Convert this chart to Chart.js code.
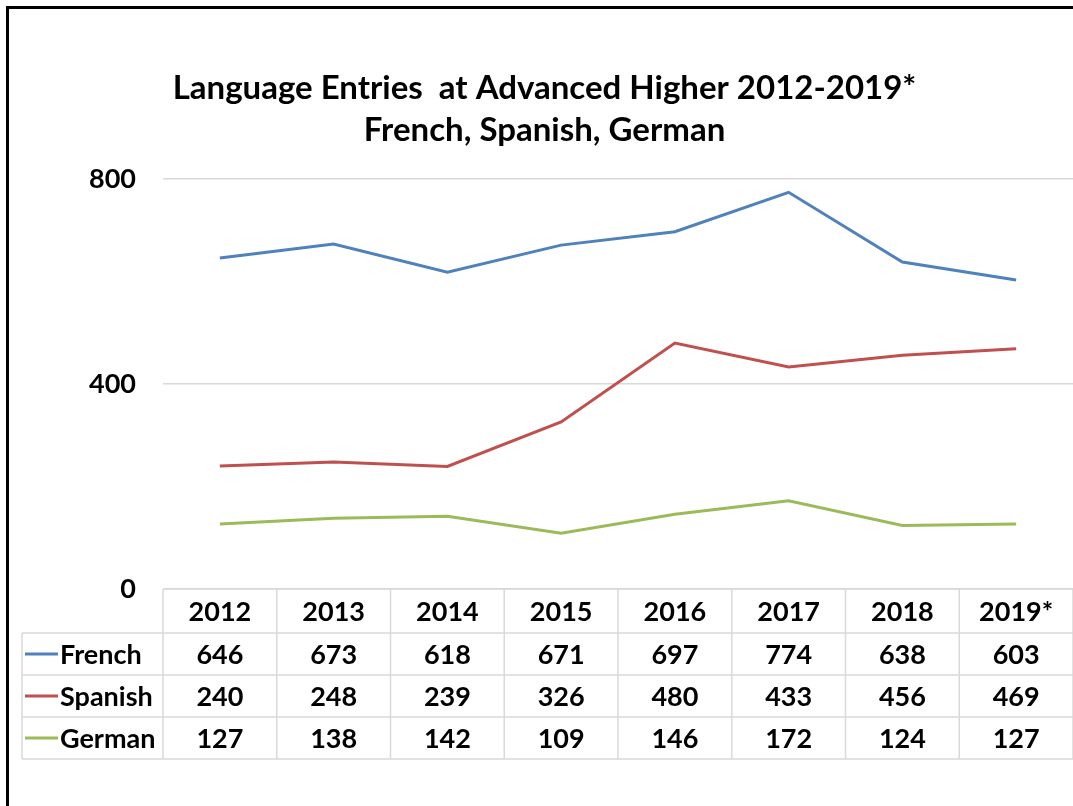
<!DOCTYPE html>
<html>
<head>
<meta charset="utf-8">
<script src="https://cdn.jsdelivr.net/npm/chart.js@4"></script>
<style>
  html, body { margin: 0; padding: 0; background: #fff; }
  #wrap { position: relative; width: 1073px; height: 806px; overflow: hidden; }
  #frame { position: absolute; left: 6px; top: 6px; width: 1100px; height: 900px;
           border-left: 3px solid #000; border-top: 3px solid #000; pointer-events: none; }
  canvas { display: block; }
</style>
</head>
<body>
<div id="wrap">
  <canvas id="chart" width="1073" height="806"></canvas>
  <div id="frame"></div>
</div>
<script>
const years = ["2012", "2013", "2014", "2015", "2016", "2017", "2018", "2019*"];
const french = [646, 673, 618, 671, 697, 774, 638, 603];
const spanish = [240, 248, 239, 326, 480, 433, 456, 469];
const german = [127, 138, 142, 109, 146, 172, 124, 127];
const yTicks = [0, 400, 800];

const FONT = "Lato, 'Open Sans', sans-serif";
const GRID = "#d9d9d9";

// data table under the plot, drawn from the same arrays and the x scale
const dataTable = {
  id: "dataTable",
  afterDraw(chart) {
    const ctx = chart.ctx;
    const x = chart.scales.x;
    const top = chart.chartArea.bottom;
    const colW = x.width / years.length;
    const headH = 44, rowH = 42, legendLeft = 22;
    const rowsTop = top + headH;
    const bottom = rowsTop + rowH * chart.data.datasets.length;

    ctx.save();
    ctx.strokeStyle = GRID;
    ctx.lineWidth = 1.5;
    ctx.beginPath();
    ctx.moveTo(x.left, top); ctx.lineTo(x.right, top);
    for (let r = 0; r <= chart.data.datasets.length; r++) {
      const y = rowsTop + r * rowH;
      ctx.moveTo(legendLeft, y); ctx.lineTo(x.right, y);
    }
    ctx.moveTo(legendLeft, rowsTop); ctx.lineTo(legendLeft, bottom);
    for (let i = 0; i <= years.length; i++) {
      const bx = x.left + i * colW;
      ctx.moveTo(bx, top); ctx.lineTo(bx, bottom);
    }
    ctx.stroke();

    ctx.fillStyle = "#000";
    ctx.font = "bold 27px " + FONT;
    ctx.textAlign = "center";
    ctx.textBaseline = "middle";
    years.forEach((yr, i) => ctx.fillText(yr, x.getPixelForValue(i), top + headH / 2 + 1));

    chart.data.datasets.forEach((ds, r) => {
      const cy = rowsTop + r * rowH + rowH / 2 + 1;
      ds.data.forEach((v, i) => {
        ctx.fillStyle = "#000";
        ctx.textAlign = "center";
        ctx.fillText(String(v), x.getPixelForValue(i), cy);
      });
      ctx.strokeStyle = ds.borderColor;
      ctx.lineWidth = 3;
      ctx.beginPath();
      ctx.moveTo(legendLeft + 3, cy - 1); ctx.lineTo(legendLeft + 36, cy - 1);
      ctx.stroke();
      ctx.fillStyle = "#000";
      ctx.textAlign = "left";
      ctx.fillText(ds.label, legendLeft + 38, cy);
    });
    ctx.restore();
  }
};

new Chart(document.getElementById("chart"), {
  type: "line",
  data: {
    labels: years,
    datasets: [
      { label: "French", data: french, borderColor: "#4f81bd" },
      { label: "Spanish", data: spanish, borderColor: "#c0504d" },
      { label: "German", data: german, borderColor: "#9bbb59" },
    ],
  },
  options: {
    responsive: false,
    animation: false,
    layout: { padding: { left: 16, right: 0, top: 0, bottom: 0 } },
    elements: {
      line: { borderWidth: 3, tension: 0, fill: false },
      point: { radius: 0, hoverRadius: 0 },
    },
    plugins: {
      legend: { display: false },
      tooltip: { enabled: false },
      title: {
        display: true,
        text: ["Language Entries  at Advanced Higher 2012-2019*", "French, Spanish, German"],
        color: "#000",
        font: { family: FONT, size: 33, weight: "bold", lineHeight: 42 / 33 },
        padding: { top: 67, bottom: 28 },
      },
    },
    scales: {
      x: {
        offset: true,
        grid: { display: false },
        border: { display: false },
        ticks: { display: false },
        afterFit(scale) { scale.height = 217; },
      },
      y: {
        min: 0,
        max: 800,
        afterBuildTicks(scale) { scale.ticks = yTicks.map(v => ({ value: v })); },
        grid: { color: GRID, lineWidth: 1.5, drawTicks: false },
        border: { display: false },
        ticks: { color: "#000", padding: 27, font: { family: FONT, size: 27, weight: "bold" } },
        afterFit(scale) { scale.width = 147; },
      },
    },
  },
  plugins: [dataTable],
});
</script>
</body>
</html>
